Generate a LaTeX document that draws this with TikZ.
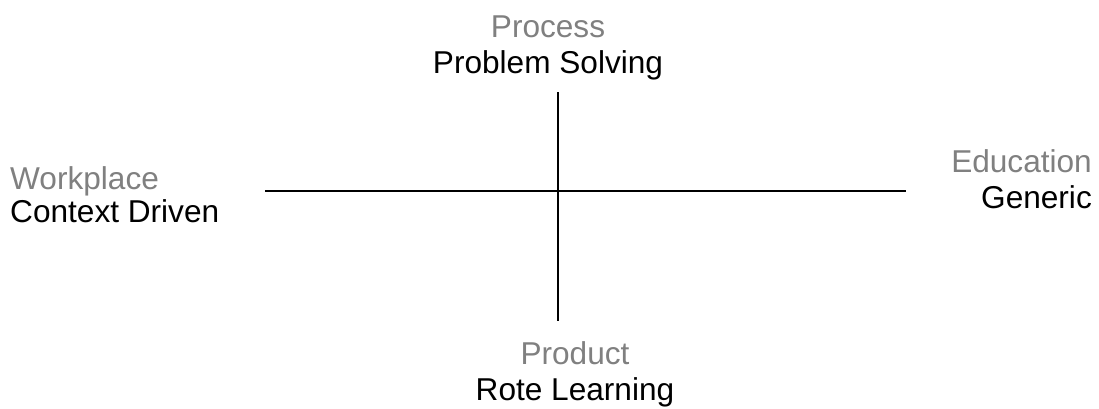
\documentclass[tikz,border=0pt]{standalone}
\usepackage{fontspec}
\setmainfont{Liberation Sans}
\usepackage{xcolor}
\usetikzlibrary{positioning}

\begin{document}
\begin{tikzpicture}[x=1pt,y=-1pt,
    axislabel/.style={inner sep=0pt,font=\fontsize{31.6}{36}\selectfont,gray},
    polelabel/.style={inner sep=0pt,font=\fontsize{31.6}{36}\selectfont,black}]
    \useasboundingbox (0,0) rectangle (1099,408);
    % Axes
    \coordinate (left) at (265,191);
    \coordinate (right) at (906,191);
    \coordinate (top) at (558,92);
    \coordinate (bottom) at (558,321);
    \draw[line width=1.5pt] (left) -- (right);
    \draw[line width=1.5pt] (top) -- (bottom);
    % Top
    \node[axislabel,anchor=base] (process) at (548,37) {Process};
    \node[polelabel,anchor=base] (solving) at (548,73) {Problem Solving};
    % Left
    \node[axislabel,anchor=base west] (workplace) at (10,189) {Workplace};
    \node[polelabel,anchor=base west] (context) at (10,222) {Context Driven};
    % Right
    \node[axislabel,anchor=base east] (education) at (1092,172) {Education};
    \node[polelabel,anchor=base east] (generic) at (1092,208) {Generic};
    % Bottom
    \node[axislabel,anchor=base] (product) at (575,364) {Product};
    \node[polelabel,anchor=base] (rote) at (575,400) {Rote Learning};
\end{tikzpicture}
\end{document}
